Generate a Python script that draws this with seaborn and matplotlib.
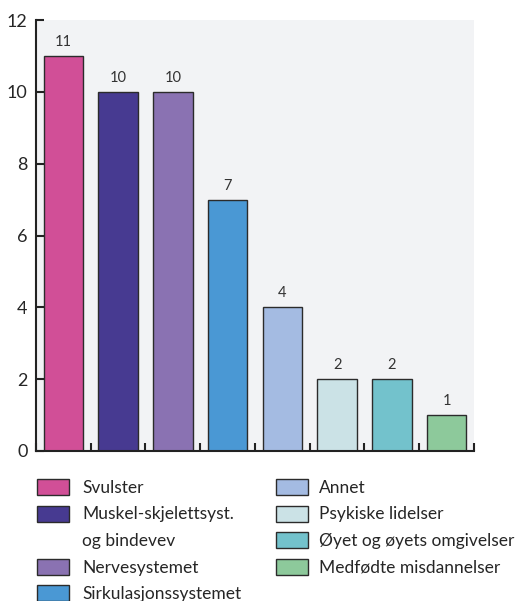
import matplotlib
matplotlib.use("Agg")
import matplotlib.pyplot as plt
from matplotlib.patches import Patch
from matplotlib.ticker import MultipleLocator
import seaborn as sns
import pandas as pd

categories = ["Svulster", "Muskel-skjelettsyst.", "Nervesystemet", "Sirkulasjonssystemet",
              "Annet", "Psykiske lidelser", "Øyet og øyets omgivelser", "Medfødte misdannelser"]
values = [11, 10, 10, 7, 4, 2, 2, 1]
colors = ["#D14F97", "#473A91", "#8A72B2", "#4A98D4",
          "#A4BBE2", "#CBE2E6", "#73C2CC", "#8DC99B"]

BG = "#F2F3F5"
EDGE = "#2B2B2B"

sns.set_theme(style="white")
plt.rcParams["font.family"] = ["Lato", "DejaVu Sans"]

df = pd.DataFrame({"cat": categories, "val": values})

fig = plt.figure(figsize=(5.23, 6.01), dpi=100)
ax = fig.add_axes([0.0688, 0.2496, 0.8375, 0.7171])
ax.set_facecolor(BG)

sns.barplot(data=df, x="cat", y="val", hue="cat", palette=colors, legend=False,
            ax=ax, width=0.72, edgecolor=EDGE, linewidth=1, saturation=1)

for c in ax.containers:
    ax.bar_label(c, padding=5, fontsize=10.5, color="#333333")

ax.set_ylim(0, 12)
ax.set_xlim(-0.5, len(categories) - 0.5)
ax.yaxis.set_major_locator(MultipleLocator(2))
ax.set_xticks([i - 0.5 for i in range(len(categories) + 1)])
ax.set_xticklabels([])
ax.set_xlabel("")
ax.set_ylabel("")
for s in ["top", "right"]:
    ax.spines[s].set_visible(False)
for s in ["left", "bottom"]:
    ax.spines[s].set_color("#222222")
    ax.spines[s].set_linewidth(1.5)
ax.tick_params(axis="both", direction="in", length=6, width=1.5, color="#222222")
ax.tick_params(axis="y", labelsize=13, pad=6, left=True)
ax.tick_params(axis="x", bottom=True)

handles = [Patch(facecolor=col, edgecolor=EDGE, linewidth=1) for col in colors]
labels = list(categories)
# second label split over two rows, as in the original
left_h = handles[:2] + [Patch(facecolor="none", edgecolor="none")] + handles[2:4]
left_l = labels[:2] + ["og bindevev"] + labels[2:4]

leg_kw = dict(loc="upper left", frameon=False, fontsize=12.5, handlelength=1.85,
              handleheight=1.05, labelspacing=0.55, borderaxespad=0, borderpad=0)
leg1 = fig.legend(left_h, left_l, bbox_to_anchor=(37 / 523, 1 - 479 / 601),
                  handletextpad=0.75, **leg_kw)
fig.legend(handles[4:], labels[4:], bbox_to_anchor=(276 / 523, 1 - 479 / 601),
           handletextpad=0.6, **leg_kw)

fig.savefig("out.png", dpi=100)
